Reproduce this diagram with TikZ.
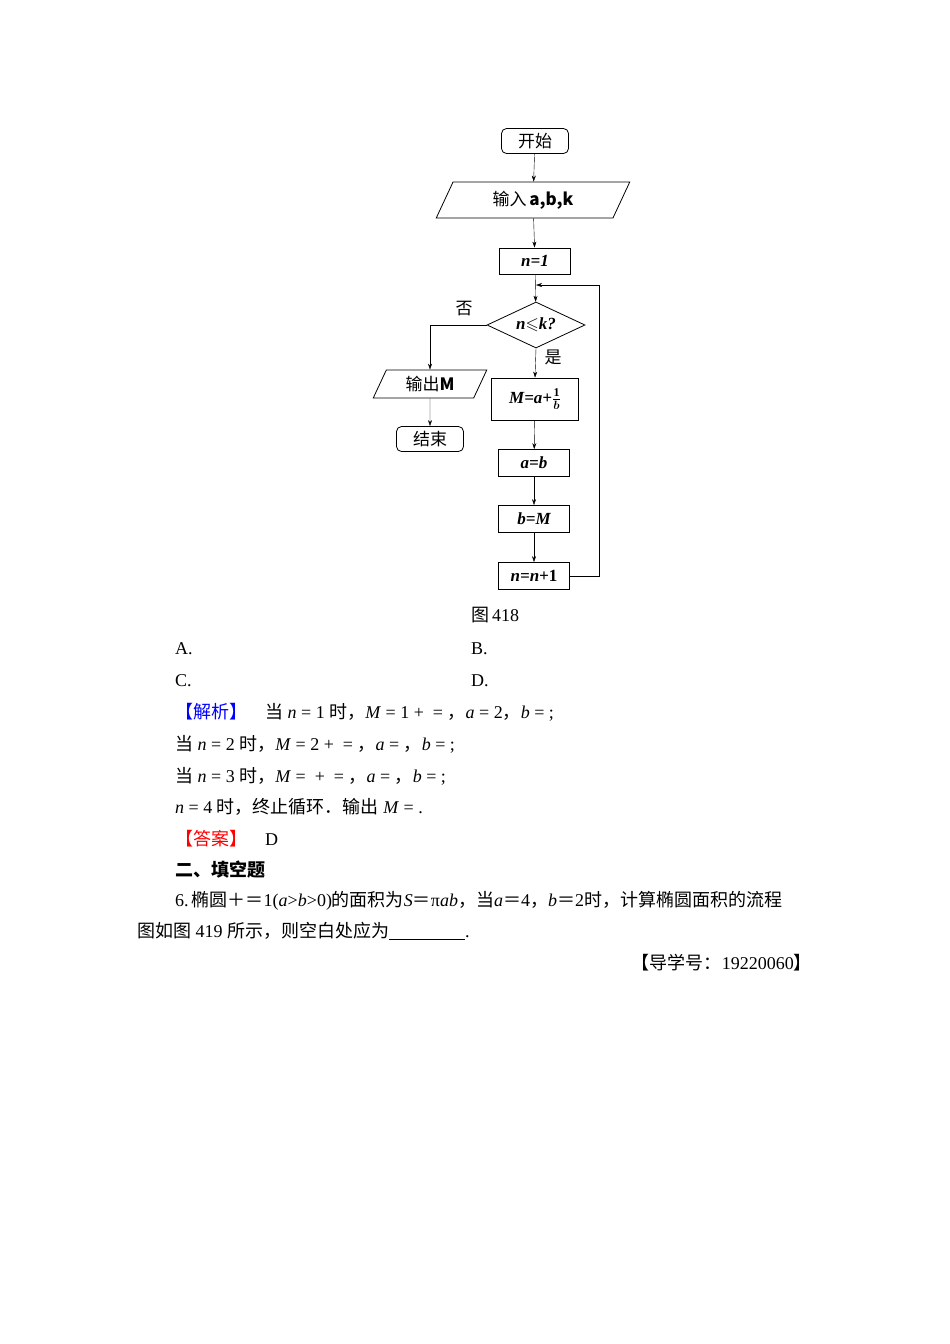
\documentclass[tikz,border=0pt]{standalone}
\usepackage{amsmath,amssymb}
\usepackage{fontspec}
\setmainfont{Liberation Serif}
\newfontfamily\cjk{Noto Sans CJK SC}
\usetikzlibrary{shapes.geometric,arrows.meta}
\begin{document}
\begin{tikzpicture}[x=1pt,y=-1pt,
  every node/.style={font=\fontsize{17}{20}\selectfont},
  box/.style={draw,thick,minimum width=71pt,minimum height=26pt,inner sep=0pt},
  term/.style={draw,thick,rounded corners=5pt,minimum width=67pt,minimum height=25pt,inner sep=0pt},
  io/.style={draw,thick,trapezium,trapezium left angle=65,trapezium right angle=115,inner sep=0pt},
  dec/.style={draw,thick,diamond,minimum width=98pt,minimum height=46pt,inner sep=0pt,aspect=2.1},
  arr/.style={-{Stealth[length=6pt,width=4pt]},thin},
  txt/.style={anchor=base west,font=\fontsize{18}{20}\selectfont,inner sep=0pt},
  math/.style={font=\fontsize{17}{20}\selectfont\bfseries\itshape}]
\useasboundingbox (0,0) rectangle (950,1344);
\node[term] (s) at (535,141) {\cjk 开始};
\node[io,minimum width=104pt,minimum height=36pt] (in) at (533,200) {\cjk 输入\,\bfseries\itshape a,b,k};
\node[box,math] (n1) at (535,261) {n=1};
\node[dec,math] (d) at (536,325) {n$\boldsymbol\leqslant$k?};
\node[io,minimum width=76pt,minimum height=28pt] (out) at (430,384) {\cjk 输出\bfseries\itshape M};
\node[term] (e) at (430,439) {\cjk 结束};
\node[box,math,minimum width=87pt,minimum height=42pt] (m) at (535,399) {M=a+$\frac{\mathbf 1}{\boldsymbol b}$};
\node[box,math,minimum height=27pt] (ab) at (534,463) {a=b};
\node[box,math,minimum height=27pt] (bm) at (534,519) {b=M};
\node[box,math,minimum height=27pt] (nn) at (534,576) {n=n+\upshape 1};
\coordinate (j) at (536,285);
\draw[arr] (s) -- (in);
\draw[arr] (in) -- (n1);
\draw[arr] (n1) -- (d);
\draw[arr] (d.south) -- (m.north);
\draw[arr] (m) -- (ab);
\draw[arr] (ab) -- (bm);
\draw[arr] (bm) -- (nn);
\draw[arr] (d.west) -| (out.north);
\draw[arr] (out) -- (e);
\draw[arr] (nn.east) -- (599,576) -- (599,285) -- (j);
\node at (464,309) {\cjk 否};
\node at (553,357) {\cjk 是};
\node[font=\fontsize{18}{20}\selectfont] at (495,615) {\cjk 图\,\rmfamily 418};
\node[txt] (a) at (175,654) {A.};
\node[txt] (b) at (471,654) {B.};
\node[txt] (c) at (175,686) {C.};
\node[txt] (dd) at (471,686) {D.};
\node[txt] at (175,718) {\textcolor{blue}{\cjk 【解析】}\quad{\cjk 当} \textit{n} = 1 {\cjk 时，}\textit{M} = 1 + \ = {\cjk ，}\textit{a} = 2{\cjk ，}\textit{b} = ;};
\node[txt] at (175,750) {{\cjk 当} \textit{n} = 2 {\cjk 时，}\textit{M} = 2 + \ = {\cjk ，}\textit{a} = {\cjk ，}\textit{b} = ;};
\node[txt] at (175,782) {{\cjk 当} \textit{n} = 3 {\cjk 时，}\textit{M} = \ + \ = {\cjk ，}\textit{a} = {\cjk ，}\textit{b} = ;};
\node[txt] at (175,813) {\textit{n} = 4 {\cjk 时，终止循环．输出} \textit{M} = .};
\node[txt] at (175,845) {\textcolor{red}{\cjk 【答案】}\quad D};
\node[txt] at (175,876) {\cjk\bfseries 二、填空题};
\node[txt] at (175,906) {6.\,{\cjk 椭圆＋＝}1(\textit{a}>\textit{b}>0){\cjk 的面积为}\textit{S}{\cjk ＝}π\textit{ab}{\cjk ，当}\textit{a}{\cjk ＝}4{\cjk ，}\textit{b}{\cjk ＝}2{\cjk 时，计算椭圆面积的流程}};
\node[txt] at (137,937) {{\cjk 图如图} 419 {\cjk 所示，则空白处应为}\underline{\hspace{76pt}}.};
\node[txt,anchor=base east] at (812,969) {\cjk 【导学号：\rmfamily 19220060\cjk 】};
\end{tikzpicture}
\end{document}
